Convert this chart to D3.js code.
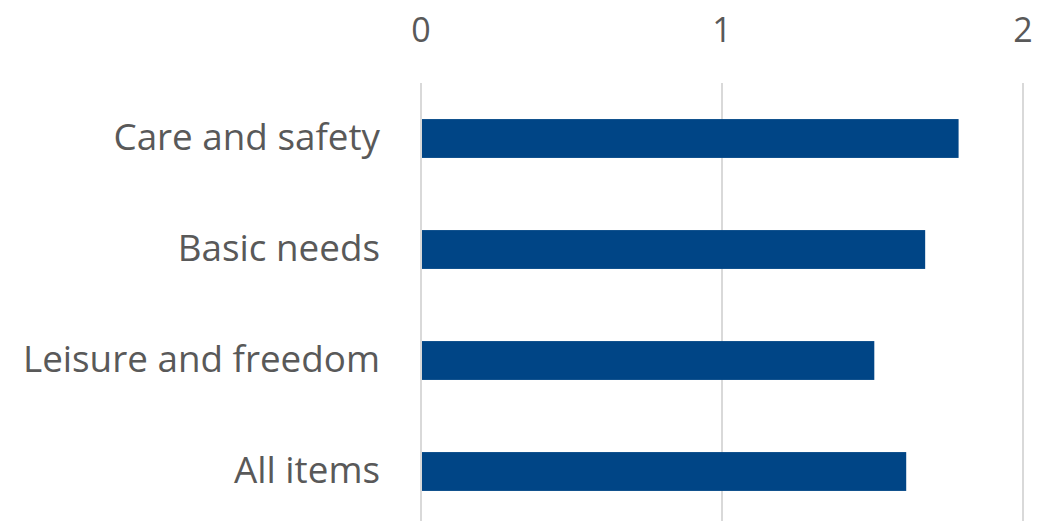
<!DOCTYPE html>
<html><head><meta charset="utf-8">
<script src="https://cdn.jsdelivr.net/npm/d3@7"></script>
<style>body{margin:0;background:#fff}svg{display:block}</style>
</head><body><div id="chart"></div>
<script>
const categories = ["Care and safety", "Basic needs", "Leisure and freedom", "All items"];
const values = [1.786, 1.675, 1.506, 1.612];
const tickValues = [0, 1, 2];

const W = 1056, H = 521;
const svg = d3.select("#chart").append("svg").attr("width", W).attr("height", H);
const x = d3.scaleLinear().domain([0, 2]).range([421, 1023]);
const y = d3.scaleBand().domain(categories).range([83, 527]).paddingInner(0.65).paddingOuter(0.325);
const font = "'Open Sans', sans-serif";

svg.append("g").selectAll("line").data(tickValues).join("line")
  .attr("x1", d => x(d)).attr("x2", d => x(d))
  .attr("y1", 83).attr("y2", H)
  .attr("stroke", "#d9d9d9").attr("stroke-width", 2);

svg.append("g").selectAll("text").data(tickValues).join("text")
  .attr("x", d => x(d)).attr("y", 42)
  .attr("text-anchor", "middle")
  .attr("font-family", font).attr("font-size", 34).attr("fill", "#595959")
  .text(d => d);

svg.append("g").selectAll("rect").data(categories).join("rect")
  .attr("x", x(0) + 1).attr("y", d => y(d))
  .attr("width", (d, i) => x(values[i]) - x(0) - 1)
  .attr("height", y.bandwidth())
  .attr("fill", "#004586");

svg.append("g").selectAll("text").data(categories).join("text")
  .attr("x", 380).attr("y", d => y(d) + y.bandwidth() / 2 + 11)
  .attr("text-anchor", "end")
  .attr("font-family", font).attr("font-size", 36.8).attr("fill", "#595959")
  .text(d => d);
</script></body></html>
